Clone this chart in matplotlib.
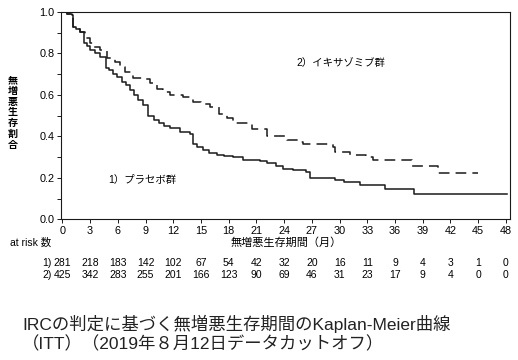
import matplotlib.pyplot as plt
from matplotlib.transforms import blended_transform_factory

plt.rcParams['font.family'] = ['Liberation Sans', 'Noto Sans CJK JP', 'DejaVu Sans']

# Kaplan-Meier step values
placebo_t = [0, 0.5, 1.0, 1.1, 1.5, 1.9, 2.3, 2.7, 3.0, 3.5, 4.05, 4.7, 5.0, 5.5, 5.9,
             6.4, 6.9, 7.3, 7.7, 8.2, 8.7, 9.3, 9.9, 10.5, 11.0, 11.6, 12.7, 13.8, 14.1,
             14.6, 15.2, 15.9, 16.7, 17.5, 18.5, 19.6, 21.4, 22.1, 23.1, 23.9, 25.0,
             26.4, 26.8, 29.5, 30.5, 32.2, 34.9, 38.1, 48.1]
placebo_s = [1.0, 0.99, 0.985, 0.93, 0.92, 0.905, 0.85, 0.835, 0.816, 0.80, 0.785, 0.73,
             0.72, 0.70, 0.685, 0.665, 0.647, 0.625, 0.60, 0.575, 0.55, 0.50, 0.48, 0.463,
             0.45, 0.44, 0.42, 0.41, 0.366, 0.35, 0.333, 0.32, 0.313, 0.305, 0.30, 0.285,
             0.28, 0.27, 0.258, 0.245, 0.24, 0.228, 0.20, 0.188, 0.18, 0.164, 0.145,
             0.124, 0.124]

ixa_t = [0, 0.5, 1.0, 1.1, 1.5, 1.9, 2.4, 3.0, 3.4, 4.05, 4.8, 5.7, 6.2, 6.8, 7.6, 9.1,
         9.5, 10.2, 10.9, 11.6, 13.1, 14.1, 15.0, 16.0, 17.0, 17.8, 18.5, 20.5, 22.1,
         24.3, 25.7, 26.0, 29.3, 29.5, 31.1, 32.9, 33.6, 37.8, 40.6, 45.0]
ixa_s = [1.0, 0.99, 0.985, 0.93, 0.92, 0.905, 0.873, 0.85, 0.83, 0.816, 0.78, 0.76, 0.736,
         0.71, 0.68, 0.676, 0.66, 0.63, 0.615, 0.60, 0.59, 0.567, 0.555, 0.543, 0.51,
         0.49, 0.463, 0.435, 0.40, 0.385, 0.373, 0.366, 0.35, 0.325, 0.31, 0.30, 0.285,
         0.258, 0.222, 0.222]

risk_times = [0, 3, 6, 9, 12, 15, 18, 21, 24, 27, 30, 33, 36, 39, 42, 45, 48]
risk_placebo = [281, 218, 183, 142, 102, 67, 54, 42, 32, 20, 16, 11, 9, 4, 3, 1, 0]
risk_ixa = [425, 342, 283, 255, 201, 166, 123, 90, 69, 46, 31, 23, 17, 9, 4, 0, 0]

y_label = "無増悪生存割合"
x_label = "無増悪生存期間（月）"
caption = ["IRCの判定に基づく無増悪生存期間のKaplan-Meier曲線",
           "（ITT）（2019年８月12日データカットオフ）"]

line_color = "#1a1a1a"
fig = plt.figure(figsize=(5.18, 3.6), dpi=100)
ax = fig.add_axes([0.1178, 0.3903, 0.8677, 0.5764])

ax.step(placebo_t, placebo_s, where="post", color=line_color, lw=1.1)
ax.step(ixa_t, ixa_s, where="post", color=line_color, lw=1.1, dashes=(7, 4))

ax.set_xlim(-0.15, 48.5)
ax.set_ylim(0, 1.0)
ax.set_xticks(risk_times)
ax.set_yticks([0.0, 0.2, 0.4, 0.6, 0.8, 1.0])
ax.set_yticks([0.1, 0.3, 0.5, 0.7, 0.9], minor=True)
ax.tick_params(axis="both", which="both", direction="out", length=3, width=0.7,
               labelsize=7.8, pad=1.5, color=line_color)
for sp in ax.spines.values():
    sp.set_linewidth(0.8)
    sp.set_color(line_color)

ax.text(30.1, 0.754, "2）イキサゾミブ群", ha="center", va="center", fontsize=7.5)
ax.text(8.6, 0.188, "1）プラセボ群", ha="center", va="center", fontsize=7.5)

# y label: one upright character per line
for i, ch in enumerate(y_label):
    fig.text(13 / 518, 1 - (80 + i * 10.8) / 360, ch, ha="center", va="center",
             fontsize=7.2, fontweight="bold")

fig.text(10 / 518, 1 - 243 / 360, "at risk 数", ha="left", va="center", fontsize=7.5)
ax.text(0.5, 1 - 243 / 360, x_label, ha="center", va="center", fontsize=8,
        transform=blended_transform_factory(ax.transAxes, fig.transFigure))

tr = blended_transform_factory(ax.transData, fig.transFigure)
for row_y, tag, counts in [(1 - 263 / 360, "1)", risk_placebo),
                           (1 - 275 / 360, "2)", risk_ixa)]:
    fig.text(52 / 518, row_y, tag, ha="right", va="center", fontsize=7.5)
    for t, n in zip(risk_times, counts):
        ax.text(t, row_y, str(n), ha="center", va="center", fontsize=7.5, transform=tr)

fig.text(22 / 518, 1 - 324 / 360, caption[0], ha="left", va="center", fontsize=12.5,
         color="#222222")
fig.text(22 / 518, 1 - 344 / 360, caption[1], ha="left", va="center", fontsize=12.5,
         color="#222222")

fig.savefig("out.png", dpi=100)
